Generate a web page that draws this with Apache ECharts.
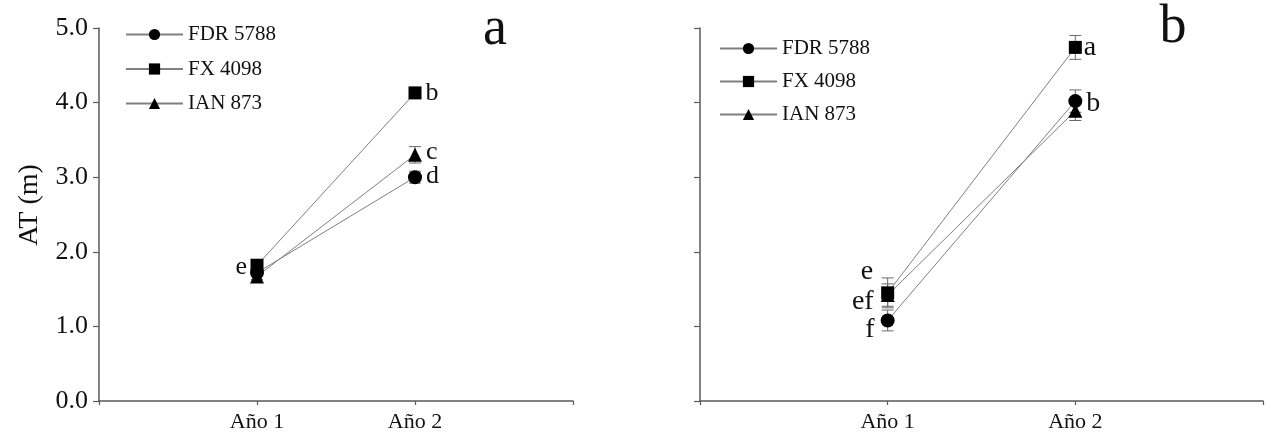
<!DOCTYPE html>
<html>
<head>
<meta charset="utf-8">
<script src="https://cdn.jsdelivr.net/npm/echarts@6/dist/echarts.min.js"></script>
<style>
html,body{margin:0;padding:0;background:#fff;}
#chart{width:1266px;height:434px;}
</style>
</head>
<body>
<div id="chart"></div>
<script>
// ---- data ----
const categories = ['Año 1', 'Año 2'];
const xPos = [1, 2];
const varieties = ['FDR 5788', 'FX 4098', 'IAN 873'];
const yTicks = ['0.0', '1.0', '2.0', '3.0', '4.0', '5.0'];

// panel a
const a_FDR = [1.72, 3.00];
const a_FX  = [1.82, 4.13];
const a_IAN = [1.67, 3.30];
const a_FDR_err = [0.04, 0.08];
const a_FX_err  = [0.04, 0.05];
const a_IAN_err = [0.04, 0.11];
const a_FDR_letters = ['e', 'd'];
const a_FX_letters  = ['', 'b'];
const a_IAN_letters = ['', 'c'];

// panel b
const b_FDR = [1.08, 4.02];
const b_FX  = [1.45, 4.74];
const b_IAN = [1.42, 3.89];
const b_FDR_err = [0.14, 0.15];
const b_FX_err  = [0.20, 0.16];
const b_IAN_err = [0.15, 0.13];
const b_FDR_letters = ['f', 'b'];
const b_FX_letters  = ['e', 'a'];
const b_IAN_letters = ['ef', ''];

// ---- styling ----
const FONT = '"Liberation Serif", "Times New Roman", serif';
const AXIS_COLOR = '#5a5a5a';
const LINE_COLOR = '#808080';
const symbols = ['circle', 'rect', 'triangle'];
const symbolSizes = [14, 13, 14];

const labelOffsets = {
  a: { 'FDR 5788': [[1, -6], [0, -1]], 'FX 4098': [[0, 0], [0, 0]], 'IAN 873': [[0, 0], [0, -3]] },
  b: { 'FDR 5788': [[-2, 9], [0, 3]], 'FX 4098': [[-4, -21], [-2, 0]], 'IAN 873': [[-3, 7], [0, 0]] }
};
const labelSize = { a: 26, b: 28 };

function lineSeries(panel, idx, name, vals, letters, gi) {
  return {
    type: 'line',
    name: name,
    xAxisIndex: gi, yAxisIndex: gi,
    symbol: symbols[idx],
    symbolSize: symbolSizes[idx],
    z: 5,
    lineStyle: { color: LINE_COLOR, width: 1 },
    itemStyle: { color: '#000' },
    data: vals.map((v, i) => ({
      value: [xPos[i], v],
      label: {
        show: letters[i] !== '',
        formatter: letters[i],
        position: i === 0 ? 'left' : 'right',
        distance: 4,
        offset: labelOffsets[panel][name][i],
        color: '#111',
        fontFamily: FONT,
        fontSize: labelSize[panel]
      }
    }))
  };
}

function errSeries(vals, errs, gi) {
  return {
    type: 'custom',
    xAxisIndex: gi, yAxisIndex: gi,
    z: 3,
    silent: true,
    encode: { x: 0, y: [1, 2] },
    data: vals.map((v, i) => [xPos[i], v - errs[i], v + errs[i]]),
    renderItem: function (params, api) {
      const x = api.value(0);
      const lo = api.coord([x, api.value(1)]);
      const hi = api.coord([x, api.value(2)]);
      const w = 6;
      const st = { stroke: '#6a6a6a', lineWidth: 1 };
      return {
        type: 'group',
        children: [
          { type: 'line', shape: { x1: lo[0], y1: lo[1], x2: hi[0], y2: hi[1] }, style: st },
          { type: 'line', shape: { x1: lo[0] - w, y1: lo[1], x2: lo[0] + w, y2: lo[1] }, style: st },
          { type: 'line', shape: { x1: hi[0] - w, y1: hi[1], x2: hi[0] + w, y2: hi[1] }, style: st }
        ]
      };
    }
  };
}

function xAxis(gi) {
  return {
    type: 'value', gridIndex: gi, min: 0, max: 3, interval: 1,
    axisLine: { show: true, lineStyle: { color: AXIS_COLOR, width: 1.5 } },
    axisTick: { show: true, inside: false, length: 4, lineStyle: { color: AXIS_COLOR, width: 1.2 } },
    axisLabel: {
      margin: 10, color: '#111', fontFamily: FONT, fontSize: 22,
      formatter: function (v) { const k = xPos.indexOf(v); return k >= 0 ? categories[k] : ''; }
    },
    splitLine: { show: false }
  };
}

function yAxis(gi, showLabels) {
  return {
    type: 'value', gridIndex: gi, min: 0, max: 5, interval: 1,
    axisLine: { show: true, lineStyle: { color: AXIS_COLOR, width: 1.5 } },
    axisTick: { show: true, inside: false, length: 6, lineStyle: { color: AXIS_COLOR, width: 1.2 } },
    axisLabel: {
      show: showLabels, margin: 11, color: '#111', fontFamily: FONT, fontSize: 26,
      formatter: function (v) { return yTicks[Math.round(v)]; }
    },
    splitLine: { show: false }
  };
}

const legendCommon = {
  orient: 'vertical',
  itemWidth: 57, itemHeight: 14,
  textStyle: { fontFamily: FONT, fontSize: 21, color: '#111' },
  data: varieties,
  selectedMode: false
};

const option = {
  animation: false,
  backgroundColor: '#fff',
  grid: [
    { left: 99, right: 693, top: 28, bottom: 33 },
    { left: 700, right: 2, top: 28, bottom: 33 }
  ],
  xAxis: [xAxis(0), xAxis(1)],
  yAxis: [yAxis(0, true), yAxis(1, false)],
  legend: [
    Object.assign({}, legendCommon, { left: 120, top: 19, itemGap: 13.5 }),
    Object.assign({}, legendCommon, { left: 714, top: 33, itemGap: 12 })
  ],
  graphic: [
    { type: 'text', x: 30, y: 205, rotation: Math.PI / 2,
      style: { text: 'AT (m)', font: '28px ' + FONT, fill: '#111', textAlign: 'center', textVerticalAlign: 'middle' } },
    { type: 'text', x: 495, y: 30,
      style: { text: 'a', font: '54px ' + FONT, fill: '#111', textAlign: 'center', textVerticalAlign: 'middle' } },
    { type: 'text', x: 1173, y: 28,
      style: { text: 'b', font: '54px ' + FONT, fill: '#111', textAlign: 'center', textVerticalAlign: 'middle' } }
  ],
  series: [
    errSeries(a_FDR, a_FDR_err, 0),
    errSeries(a_FX, a_FX_err, 0),
    errSeries(a_IAN, a_IAN_err, 0),
    errSeries(b_FDR, b_FDR_err, 1),
    errSeries(b_FX, b_FX_err, 1),
    errSeries(b_IAN, b_IAN_err, 1),
    lineSeries('a', 0, 'FDR 5788', a_FDR, a_FDR_letters, 0),
    lineSeries('a', 1, 'FX 4098', a_FX, a_FX_letters, 0),
    lineSeries('a', 2, 'IAN 873', a_IAN, a_IAN_letters, 0),
    lineSeries('b', 0, 'FDR 5788', b_FDR, b_FDR_letters, 1),
    lineSeries('b', 1, 'FX 4098', b_FX, b_FX_letters, 1),
    lineSeries('b', 2, 'IAN 873', b_IAN, b_IAN_letters, 1)
  ]
};

const chart = echarts.init(document.getElementById('chart'), null, { renderer: 'canvas' });
chart.setOption(option);
</script>
</body>
</html>
